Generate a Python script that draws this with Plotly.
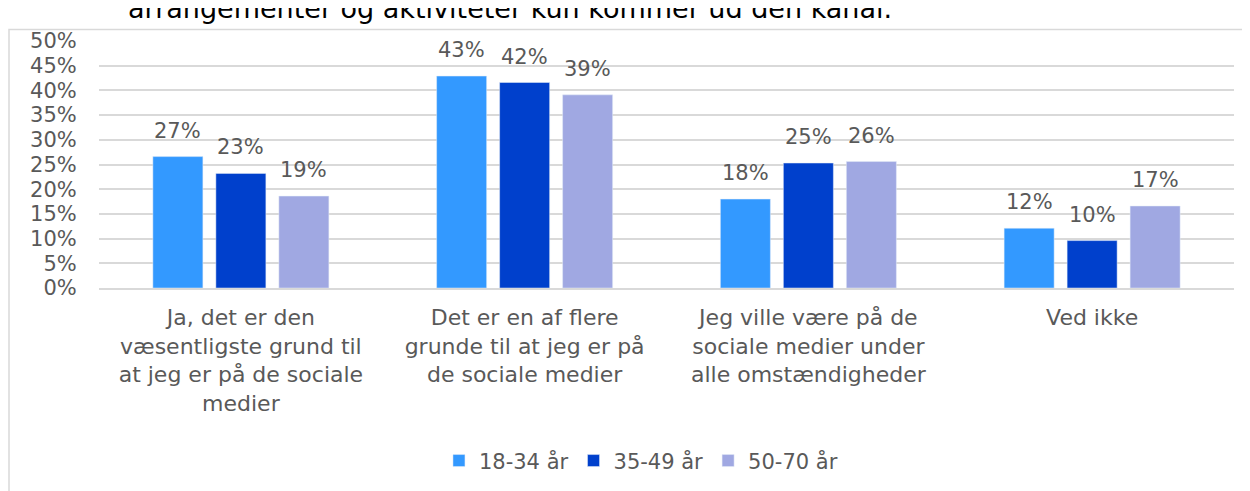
import plotly.graph_objects as go

categories = [
    "Ja, det er den<br>væsentligste grund til<br>at jeg er på de sociale<br>medier",
    "Det er en af flere<br>grunde til at jeg er på<br>de sociale medier",
    "Jeg ville være på de<br>sociale medier under<br>alle omstændigheder",
    "Ved ikke",
]
series_names = ["18-34 år", "35-49 år", "50-70 år"]
values_18_34 = [0.266, 0.429, 0.180, 0.121]
values_35_49 = [0.232, 0.416, 0.253, 0.096]
values_50_70 = [0.186, 0.391, 0.256, 0.166]
colors = ["#3399FF", "#0040CC", "#A0A8E2"]
title_line = "arrangementer og aktiviteter kun kommer ud den kanal."
y_ticks = [i / 100 for i in range(0, 55, 5)]

FONT = "DejaVu Sans"
GRAY = "#595959"

all_series = [values_18_34, values_35_49, values_50_70]

fig = go.Figure()
for name, vals, col in zip(series_names, all_series, colors):
    fig.add_trace(go.Bar(
        x=categories, y=vals, name=name, marker_color=col,
    ))

annotations = []
for i, vals in enumerate(all_series):
    for cat, v in zip(categories, vals):
        annotations.append(dict(
            x=cat, y=v, xref="x", yref="y", text=f"{round(v * 100)}%",
            xshift=(i - 1) * 63, yshift=12, yanchor="bottom", xanchor="center",
            showarrow=False, font=dict(family=FONT, size=21, color=GRAY),
        ))
annotations.append(dict(text=title_line, xref="paper", yref="paper", x=0.362, y=1.06,
                        xanchor="center", yanchor="bottom", showarrow=False,
                        font=dict(family=FONT, size=27, color="black")))

fig.update_layout(
    width=1250, height=491,
    margin=dict(l=91, r=24, t=33, b=211, autoexpand=False),
    paper_bgcolor="white", plot_bgcolor="white",
    barmode="group", bargap=0.334, bargroupgap=0.206,
    font=dict(family=FONT, color=GRAY),
    showlegend=True,
    legend=dict(orientation="h", x=0.4775, xanchor="center", y=-0.70, yanchor="middle",
                font=dict(family=FONT, size=21, color=GRAY), itemwidth=30,
                traceorder="normal"),
    xaxis=dict(tickfont=dict(family=FONT, size=22, color=GRAY), showgrid=False,
               showline=True, linecolor="#d9d9d9", linewidth=1.5,
               ticks="outside", ticklen=9, tickcolor="rgba(0,0,0,0)",
               automargin=False),
    yaxis=dict(range=[0, 0.5], tickvals=y_ticks, tickformat=".0%",
               tickfont=dict(family=FONT, size=21, color=GRAY),
               showgrid=True, gridcolor="#d9d9d9", gridwidth=1.5,
               zeroline=False, ticks="outside", ticklen=17, tickcolor="rgba(0,0,0,0)",
               automargin=False),
    annotations=annotations,
    shapes=[dict(type="rect", xref="paper", yref="paper", x0=-0.0793, x1=1.03,
                 y0=-0.86, y1=1.0466, line=dict(color="#d9d9d9", width=1.5),
                 fillcolor="rgba(0,0,0,0)", layer="below")],
)

fig.write_html("out.html")
